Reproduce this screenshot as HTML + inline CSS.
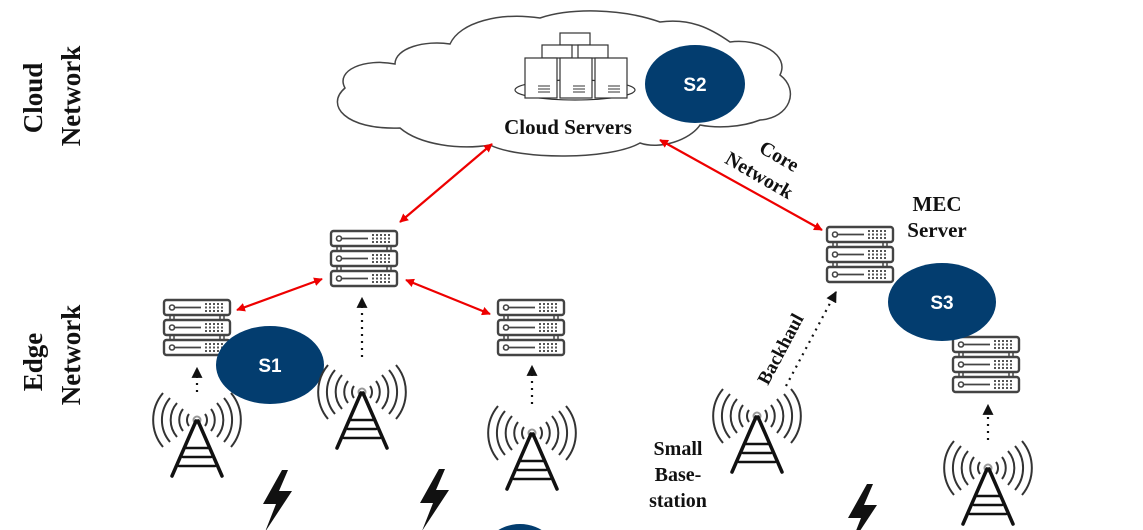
<!DOCTYPE html>
<html><head><meta charset="utf-8"><style>
html,body{margin:0;padding:0;background:#fff;width:1143px;height:530px;overflow:hidden;}
svg{display:block;}
.t{font-family:"Liberation Serif",serif;font-weight:bold;fill:#111;}
.s{font-family:"Liberation Sans",sans-serif;font-weight:bold;fill:#fff;font-size:19px;}
</style></head><body>
<svg width="1143" height="530" viewBox="0 0 1143 530" xmlns="http://www.w3.org/2000/svg">
<defs>
<g id="unit">
<rect x="1" y="0" width="66" height="15" rx="2.5" fill="#fff" stroke="#444" stroke-width="2.4"/>
<circle cx="9" cy="7.5" r="2.5" fill="none" stroke="#444" stroke-width="1.6"/>
<line x1="12" y1="7.5" x2="38" y2="7.5" stroke="#444" stroke-width="1.8"/>
<g fill="#555">
<rect x="42" y="3" width="2" height="2"/><rect x="46" y="3" width="2" height="2"/><rect x="50" y="3" width="2" height="2"/><rect x="54" y="3" width="2" height="2"/><rect x="58" y="3" width="2" height="2"/>
<rect x="42" y="6.5" width="2" height="2"/><rect x="46" y="6.5" width="2" height="2"/><rect x="50" y="6.5" width="2" height="2"/><rect x="54" y="6.5" width="2" height="2"/><rect x="58" y="6.5" width="2" height="2"/>
<rect x="42" y="10" width="2" height="2"/><rect x="46" y="10" width="2" height="2"/><rect x="50" y="10" width="2" height="2"/><rect x="54" y="10" width="2" height="2"/><rect x="58" y="10" width="2" height="2"/>
</g>
</g>
<g id="rack">
<use href="#unit" y="0"/><use href="#unit" y="20"/><use href="#unit" y="40"/>
<g stroke="#444" stroke-width="1.5"><line x1="7" y1="15" x2="7" y2="20"/><line x1="11" y1="15" x2="11" y2="20"/><line x1="57" y1="15" x2="57" y2="20"/><line x1="61" y1="15" x2="61" y2="20"/>
<line x1="7" y1="35" x2="7" y2="40"/><line x1="11" y1="35" x2="11" y2="40"/><line x1="57" y1="35" x2="57" y2="40"/><line x1="61" y1="35" x2="61" y2="40"/></g>
</g>
<g id="tower">
<g fill="none" stroke="#333" stroke-width="2">
<circle cx="0" cy="0" r="3.5" stroke="#999"/>
<path d="M-8,-6 A10,10 0 0 0 -8,6 M8,-6 A10,10 0 0 1 8,6"/>
<path d="M-14,-11 A18,18 0 0 0 -14,11 M14,-11 A18,18 0 0 1 14,11"/>
<path d="M-20,-17 A26,26 0 0 0 -20,17 M20,-17 A26,26 0 0 1 20,17"/>
<path d="M-27,-22 A34,34 0 0 0 -27,22 M27,-22 A34,34 0 0 1 27,22"/>
<path d="M-34,-27 A42,42 0 0 0 -34,27 M34,-27 A42,42 0 0 1 34,27"/>
</g>
<g stroke="#111" stroke-width="3.5" fill="none" stroke-linecap="round">
<path d="M-1,1 L-25,56 M1,1 L25,56"/>
<path d="M-11,28 L13,28 M-14,37 L14,37 M-18,46 L18,46" stroke-width="2.5"/>
</g>
</g>
<path id="bolt" d="M9,0 L-10,34 L3,34 L-8,62 L19,21 L6,21 L15,0 Z" fill="#111"/>
<marker id="ar" viewBox="0 0 10 10" refX="9" refY="5" markerWidth="4" markerHeight="4" orient="auto-start-reverse"><path d="M0,0 L10,5 L0,10 Z" fill="#e00"/></marker>
<marker id="ak" viewBox="0 0 10 10" refX="9" refY="5" markerWidth="5" markerHeight="5" orient="auto"><path d="M0,0 L10,5 L0,10 Z" fill="#111"/></marker>
</defs>

<path d="M400,128 C345,130 325,105 345,88 C335,70 365,58 395,64 C395,48 425,40 450,44 C460,22 500,12 540,18 C570,8 620,8 660,22 C690,18 710,28 730,42 C760,38 790,55 780,75 C800,90 790,118 760,120 C740,128 715,128 700,125 C690,140 660,150 640,143 C610,160 520,160 490,145 C460,150 420,145 400,128 Z" fill="#fff" stroke="#444" stroke-width="1.5"/>
<g fill="#fff" stroke="#333" stroke-width="1.2">
<ellipse cx="575" cy="90" rx="60" ry="10"/>
<rect x="560" y="33" width="30" height="12"/>
<rect x="542" y="45" width="30" height="13"/><rect x="578" y="45" width="30" height="13"/>
<rect x="525" y="58" width="32" height="40"/><rect x="560" y="58" width="32" height="40"/><rect x="595" y="58" width="32" height="40"/>
</g>
<g stroke="#333" stroke-width="1"><line x1="538" y1="86" x2="550" y2="86"/><line x1="538" y1="89" x2="550" y2="89"/><line x1="538" y1="92" x2="550" y2="92"/>
<line x1="573" y1="86" x2="585" y2="86"/><line x1="573" y1="89" x2="585" y2="89"/><line x1="573" y1="92" x2="585" y2="92"/>
<line x1="608" y1="86" x2="620" y2="86"/><line x1="608" y1="89" x2="620" y2="89"/><line x1="608" y1="92" x2="620" y2="92"/></g>
<ellipse cx="695" cy="84" rx="50" ry="39" fill="#033d6f"/>
<text class="s" x="695" y="91" text-anchor="middle">S2</text>
<text class="t" x="568" y="134" font-size="21" text-anchor="middle">Cloud Servers</text>

<text class="t" font-size="27" transform="translate(42,98) rotate(-90)" text-anchor="middle">Cloud</text>
<text class="t" font-size="27" transform="translate(80,96) rotate(-90)" text-anchor="middle">Network</text>
<text class="t" font-size="27" transform="translate(42,362) rotate(-90)" text-anchor="middle">Edge</text>
<text class="t" font-size="27" transform="translate(80,355) rotate(-90)" text-anchor="middle">Network</text>

<g stroke="#e00" stroke-width="2.2" marker-start="url(#ar)" marker-end="url(#ar)">
<line x1="400" y1="222" x2="492" y2="144"/>
<line x1="660" y1="140" x2="822" y2="230"/>
<line x1="237" y1="310" x2="322" y2="279"/>
<line x1="406" y1="280" x2="490" y2="314"/>
</g>
<text class="t" font-size="20" transform="translate(776,162) rotate(30)" text-anchor="middle">Core</text>
<text class="t" font-size="20" transform="translate(756,181) rotate(30)" text-anchor="middle">Network</text>

<use href="#rack" x="330" y="231"/>
<use href="#rack" x="163" y="300"/>
<use href="#rack" x="497" y="300"/>
<use href="#rack" x="826" y="227"/>
<use href="#rack" x="952" y="337"/>

<text class="t" font-size="21" x="937" y="211" text-anchor="middle">MEC</text>
<text class="t" font-size="21" x="937" y="237" text-anchor="middle">Server</text>

<ellipse cx="270" cy="365" rx="54" ry="39" fill="#033d6f"/>
<text class="s" x="270" y="372" text-anchor="middle">S1</text>
<ellipse cx="942" cy="302" rx="54" ry="39" fill="#033d6f"/>
<text class="s" x="942" y="309" text-anchor="middle">S3</text>

<g stroke="#111" stroke-width="2.2" stroke-dasharray="2,5" marker-end="url(#ak)">
<line x1="197" y1="392" x2="197" y2="368"/>
<line x1="362" y1="357" x2="362" y2="298"/>
<line x1="532" y1="404" x2="532" y2="366"/>
<line x1="988" y1="440" x2="988" y2="405"/>
<line x1="786" y1="386" x2="836" y2="292"/>
</g>
<text class="t" font-size="19" transform="translate(786,352) rotate(-62)" text-anchor="middle">Backhaul</text>

<use href="#tower" x="197" y="420"/>
<use href="#tower" x="362" y="392"/>
<use href="#tower" x="532" y="433"/>
<use href="#tower" x="757" y="416"/>
<use href="#tower" x="988" y="468"/>

<text class="t" font-size="20" x="678" y="455" text-anchor="middle">Small</text>
<text class="t" font-size="20" x="678" y="481" text-anchor="middle">Base-</text>
<text class="t" font-size="20" x="678" y="507" text-anchor="middle">station</text>

<use href="#bolt" x="273" y="470"/>
<use href="#bolt" x="430" y="469"/>
<use href="#bolt" x="858" y="484"/>
<ellipse cx="520" cy="562" rx="40" ry="38" fill="#033d6f"/>
</svg>
</body></html>
